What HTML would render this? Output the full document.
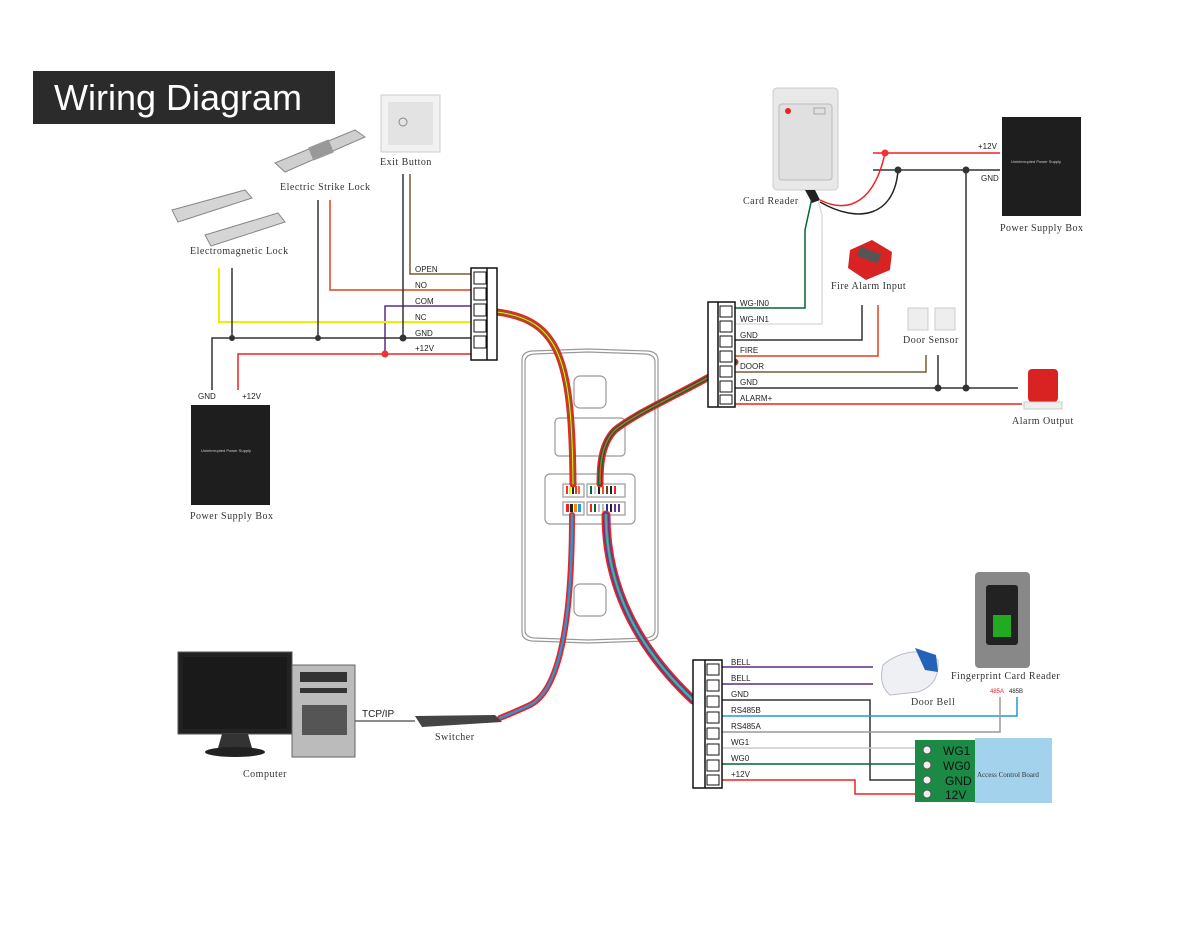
<!DOCTYPE html>
<html><head><meta charset="utf-8"><style>
html,body{margin:0;padding:0;background:#fff}
svg{display:block}
.l{font-family:"Liberation Sans",sans-serif;font-size:8px;fill:#222}
.s{font-family:"Liberation Serif",serif;font-size:10px;fill:#333;letter-spacing:0.5px}
</style></head><body>
<svg width="1200" height="927" viewBox="0 0 1200 927" xmlns="http://www.w3.org/2000/svg">
<rect width="1200" height="927" fill="#fff"/>
<rect x="33" y="71" width="302" height="53" fill="#2b2b2b"/>
<text x="54" y="110" font-family="Liberation Sans,sans-serif" font-size="36" fill="#fff">Wiring Diagram</text>

<g fill="none" stroke="#999" stroke-width="1.2">
<path d="M522 360 Q522 352 532 351 L588 349 L648 351 Q658 352 658 360 L658 632 Q658 640 648 641 L588 643 L532 641 Q522 640 522 632 Z"/>
<path d="M525 362 Q525 355 534 354 L588 352 L646 354 Q655 355 655 362 L655 630 Q655 637 646 638 L588 640 L534 638 Q525 637 525 630 Z"/>
<rect x="574" y="376" width="32" height="32" rx="6"/>
<rect x="555" y="418" width="70" height="38" rx="4"/>
<rect x="545" y="474" width="90" height="50" rx="5"/>
<rect x="574" y="584" width="32" height="32" rx="6"/>
<rect x="563" y="484" width="21" height="13"/><rect x="587" y="484" width="38" height="13"/>
<rect x="563" y="502" width="21" height="13"/><rect x="587" y="502" width="38" height="13"/>
</g>
<g>
<rect x="566" y="486" width="2" height="8" fill="#e33"/><rect x="569" y="486" width="2" height="8" fill="#ee0"/><rect x="572" y="486" width="2" height="8" fill="#222"/><rect x="575" y="486" width="2" height="8" fill="#e33"/><rect x="578" y="486" width="2" height="8" fill="#e63"/>
<rect x="590" y="486" width="2" height="8" fill="#063"/><rect x="594" y="486" width="2" height="8" fill="#ccc"/><rect x="598" y="486" width="2" height="8" fill="#222"/><rect x="602" y="486" width="2" height="8" fill="#e52"/><rect x="606" y="486" width="2" height="8" fill="#642"/><rect x="610" y="486" width="2" height="8" fill="#222"/><rect x="614" y="486" width="2" height="8" fill="#e22"/>
<rect x="566" y="504" width="3" height="8" fill="#e22"/><rect x="570" y="504" width="3" height="8" fill="#222"/><rect x="574" y="504" width="3" height="8" fill="#f80"/><rect x="578" y="504" width="3" height="8" fill="#29d"/>
<rect x="590" y="504" width="2" height="8" fill="#e22"/><rect x="594" y="504" width="2" height="8" fill="#063"/><rect x="598" y="504" width="2" height="8" fill="#bbb"/><rect x="602" y="504" width="2" height="8" fill="#bbb"/><rect x="606" y="504" width="2" height="8" fill="#239"/><rect x="610" y="504" width="2" height="8" fill="#222"/><rect x="614" y="504" width="2" height="8" fill="#639"/><rect x="618" y="504" width="2" height="8" fill="#639"/>
</g>

<g fill="none" stroke-linecap="round">
<path d="M497 312 C560 320 572 360 573 484" stroke="#e22" stroke-width="7"/>
<path d="M497 312 C560 320 572 360 573 484" stroke="#8a5a2a" stroke-width="4"/>
<path d="M497 312 C560 320 572 360 573 484" stroke="#ee0" stroke-width="1"/>
<path d="M735 362 C690 390 640 410 615 430 C600 445 600 470 600 484" stroke="#e22" stroke-width="7"/>
<path d="M735 362 C690 390 640 410 615 430 C600 445 600 470 600 484" stroke="#063" stroke-width="4"/>
<path d="M735 362 C690 390 640 410 615 430 C600 445 600 470 600 484" stroke="#c63" stroke-width="1.5"/>
<path d="M572 515 C572 620 560 690 530 705 C515 712 505 716 500 718" stroke="#e22" stroke-width="6"/>
<path d="M572 515 C572 620 560 690 530 705 C515 712 505 716 500 718" stroke="#29d" stroke-width="2.5"/>
<path d="M606 515 C606 590 640 650 693 700" stroke="#e22" stroke-width="9"/>
<path d="M606 515 C606 590 640 650 693 700" stroke="#639" stroke-width="6"/>
<path d="M606 515 C606 590 640 650 693 700" stroke="#2a8" stroke-width="3"/>
<path d="M606 515 C606 590 640 650 693 700" stroke="#999" stroke-width="1"/>
</g>

<g fill="none" stroke-width="1.5">
<path d="M410 174 V274 H471" stroke="#7a5a35"/>
<path d="M330 200 V290 H471" stroke="#e2401a"/>
<path d="M385 354 V306 H471" stroke="#5a2d8a"/>
<path d="M219 268 V322 H471" stroke="#ee0" stroke-width="2"/>
<path d="M212 390 V338 H471" stroke="#333"/>
<path d="M238 390 V354 H471" stroke="#e22"/>
<path d="M232 268 V338" stroke="#333"/>
<path d="M318 200 V338" stroke="#333"/>
<path d="M403 174 V338" stroke="#333"/>
</g>
<g fill="#333"><circle cx="232" cy="338" r="3"/><circle cx="318" cy="338" r="3"/><circle cx="403" cy="338" r="3.5"/></g>
<circle cx="385" cy="354" r="3.5" fill="#e33"/>
<rect x="471" y="268" width="26" height="92" fill="#fff" stroke="#111" stroke-width="1.5"/>
<line x1="487" y1="268" x2="487" y2="360" stroke="#111" stroke-width="1.5"/>
<g fill="none" stroke="#111"><rect x="474" y="272" width="12" height="12"/><rect x="474" y="288" width="12" height="12"/><rect x="474" y="304" width="12" height="12"/><rect x="474" y="320" width="12" height="12"/><rect x="474" y="336" width="12" height="12"/></g>
<text class="l" x="415" y="272">OPEN</text><text class="l" x="415" y="288">NO</text><text class="l" x="415" y="304">COM</text><text class="l" x="415" y="320">NC</text><text class="l" x="415" y="336">GND</text><text class="l" x="415" y="351">+12V</text>

<rect x="381" y="95" width="59" height="57" fill="#f2f2f2" stroke="#ccc"/>
<rect x="388" y="102" width="45" height="43" fill="#e3e3e3"/>
<circle cx="403" cy="122" r="4" fill="none" stroke="#888"/>
<text class="s" x="380" y="165">Exit Button</text>
<polygon points="275,163 355,130 365,137 285,172" fill="#cfcfcf" stroke="#888"/>
<rect x="310" y="143" width="22" height="14" fill="#999" transform="rotate(-22 321 150)"/>
<text class="s" x="280" y="190">Electric Strike Lock</text>
<polygon points="172,210 245,190 252,198 178,222" fill="#d5d5d5" stroke="#888"/>
<polygon points="205,235 278,213 285,222 211,246" fill="#d5d5d5" stroke="#888"/>
<text class="s" x="190" y="254" font-size="9">Electromagnetic Lock</text>
<text class="l" x="198" y="399" font-size="9">GND</text><text class="l" x="242" y="399" font-size="9">+12V</text>
<rect x="191" y="405" width="79" height="100" fill="#1e1e1e"/>
<text x="201" y="452" font-family="Liberation Sans,sans-serif" font-size="4" fill="#ccc">Uninterrupted Power Supply</text>
<text class="s" x="190" y="519">Power Supply Box</text>

<g fill="none" stroke-width="1.5">
<path d="M873 153 H1000" stroke="#e22"/>
<path d="M873 170 H1000" stroke="#333"/>
<path d="M820 200 C850 215 875 200 885 153" stroke="#e22"/>
<path d="M820 202 C860 225 895 215 898 170" stroke="#222"/>
<path d="M812 198 L805 230 V308 H735" stroke="#063"/>
<path d="M818 200 L822 215 V324 H735" stroke="#ddd"/>
<path d="M862 305 V340 H735" stroke="#333"/>
<path d="M878 305 V356 H735" stroke="#e2401a"/>
<path d="M926 355 V372 H735" stroke="#7a5a35"/>
<path d="M938 355 V388" stroke="#333"/>
<path d="M966 170 V388" stroke="#333"/>
<path d="M735 388 H1018" stroke="#333"/>
<path d="M735 404 H1022" stroke="#e22"/>
</g>
<circle cx="885" cy="153" r="3.5" fill="#e33"/>
<g fill="#333"><circle cx="898" cy="170" r="3.5"/><circle cx="966" cy="170" r="3.5"/><circle cx="938" cy="388" r="3.5"/><circle cx="966" cy="388" r="3.5"/></g>
<rect x="708" y="302" width="27" height="105" fill="#fff" stroke="#111" stroke-width="1.5"/>
<line x1="718" y1="302" x2="718" y2="407" stroke="#111" stroke-width="1.5"/>
<g fill="none" stroke="#111"><rect x="720" y="306" width="12" height="11"/><rect x="720" y="321" width="12" height="11"/><rect x="720" y="336" width="12" height="11"/><rect x="720" y="351" width="12" height="11"/><rect x="720" y="366" width="12" height="11"/><rect x="720" y="381" width="12" height="11"/><rect x="720" y="395" width="12" height="9"/></g>
<text class="l" x="740" y="306">WG-IN0</text><text class="l" x="740" y="322">WG-IN1</text><text class="l" x="740" y="338">GND</text><text class="l" x="740" y="353">FIRE</text><text class="l" x="740" y="369">DOOR</text><text class="l" x="740" y="385">GND</text><text class="l" x="740" y="401">ALARM+</text>

<rect x="773" y="88" width="65" height="102" rx="4" fill="#e8e8e8" stroke="#ccc"/>
<rect x="779" y="104" width="53" height="76" rx="3" fill="#e0e0e0" stroke="#bbb"/>
<circle cx="788" cy="111" r="3" fill="#e22"/>
<rect x="814" y="108" width="11" height="6" fill="none" stroke="#aaa"/>
<polygon points="805,190 815,190 820,200 812,203" fill="#222"/>
<text class="s" x="743" y="204">Card Reader</text>
<rect x="1002" y="117" width="79" height="99" fill="#1e1e1e"/>
<text x="1011" y="163" font-family="Liberation Sans,sans-serif" font-size="4" fill="#ccc">Uninterrupted Power Supply</text>
<text class="l" x="978" y="149" font-size="9">+12V</text><text class="l" x="981" y="181" font-size="9">GND</text>
<text class="s" x="1000" y="231">Power Supply Box</text>
<polygon points="850,250 872,240 892,252 890,270 866,280 848,268" fill="#d92222"/>
<rect x="858" y="250" width="22" height="10" fill="#555" transform="rotate(20 869 255)"/>
<text class="s" x="831" y="289">Fire Alarm Input</text>
<rect x="908" y="308" width="20" height="22" fill="#eee" stroke="#ccc"/><rect x="935" y="308" width="20" height="22" fill="#eee" stroke="#ccc"/>
<text class="s" x="903" y="343">Door Sensor</text>
<rect x="1028" y="369" width="30" height="33" rx="4" fill="#d92222"/>
<rect x="1024" y="402" width="38" height="7" fill="#eee" stroke="#ccc"/>
<text class="s" x="1012" y="424">Alarm Output</text>

<g fill="none" stroke-width="1.5">
<path d="M722 667 H873" stroke="#5a2d8a"/>
<path d="M722 684 H873" stroke="#5a2d8a"/>
<path d="M722 700 H870 V780 H918" stroke="#333"/>
<path d="M722 716 H1017 V697" stroke="#29d"/>
<path d="M722 732 H1000 V697" stroke="#999"/>
<path d="M722 748 H918" stroke="#ccc"/>
<path d="M722 764 H918" stroke="#063"/>
<path d="M722 780 H855 V794 H918" stroke="#e22"/>
</g>
<rect x="693" y="660" width="29" height="128" fill="#fff" stroke="#111" stroke-width="1.5"/>
<line x1="705" y1="660" x2="705" y2="788" stroke="#111" stroke-width="1.5"/>
<g fill="none" stroke="#111"><rect x="707" y="664" width="12" height="11"/><rect x="707" y="680" width="12" height="11"/><rect x="707" y="696" width="12" height="11"/><rect x="707" y="712" width="12" height="11"/><rect x="707" y="728" width="12" height="11"/><rect x="707" y="744" width="12" height="11"/><rect x="707" y="760" width="12" height="11"/><rect x="707" y="775" width="12" height="10"/></g>
<text class="l" x="731" y="665">BELL</text><text class="l" x="731" y="681">BELL</text><text class="l" x="731" y="697">GND</text><text class="l" x="731" y="713">RS485B</text><text class="l" x="731" y="729">RS485A</text><text class="l" x="731" y="745">WG1</text><text class="l" x="731" y="761">WG0</text><text class="l" x="731" y="777">+12V</text>
<rect x="915" y="740" width="25" height="62" fill="#1a8a44"/>
<g fill="#eee" stroke="#555"><circle cx="927" cy="750" r="4"/><circle cx="927" cy="765" r="4"/><circle cx="927" cy="780" r="4"/><circle cx="927" cy="794" r="4"/></g>
<rect x="975" y="738" width="77" height="65" fill="#a3d3ec"/>
<rect x="940" y="740" width="35" height="62" fill="#1a8a44"/>
<g font-family="Liberation Sans,sans-serif" font-size="12" fill="#111"><text x="943" y="755">WG1</text><text x="943" y="770">WG0</text><text x="945" y="785">GND</text><text x="945" y="799">12V</text></g>
<text x="977" y="777" font-family="Liberation Serif,serif" font-size="7" fill="#333">Access Control Board</text>
<path d="M883 665 Q900 650 925 652 L938 660 Q940 685 918 692 L890 695 Q878 685 883 665Z" fill="#eef0f4" stroke="#bbc"/>
<path d="M915 648 L936 655 L938 672 L925 670Z" fill="#2461b8"/>
<text class="s" x="911" y="705">Door Bell</text>
<rect x="975" y="572" width="55" height="96" rx="4" fill="#888"/>
<rect x="986" y="585" width="32" height="60" rx="3" fill="#222"/>
<rect x="993" y="615" width="18" height="22" fill="#2a2"/>
<text class="s" x="951" y="679" font-size="9">Fingerprint Card Reader</text>
<text x="990" y="693" font-family="Liberation Sans,sans-serif" font-size="6" fill="#e22">485A</text>
<text x="1009" y="693" font-family="Liberation Sans,sans-serif" font-size="6" fill="#222">485B</text>

<rect x="178" y="652" width="114" height="82" fill="#222" stroke="#555"/>
<rect x="183" y="657" width="104" height="72" fill="#1a1a1a"/>
<polygon points="222,734 248,734 252,748 218,748" fill="#333"/>
<ellipse cx="235" cy="752" rx="30" ry="5" fill="#222"/>
<rect x="292" y="665" width="63" height="92" fill="#bbb" stroke="#666"/>
<rect x="300" y="672" width="47" height="10" fill="#333"/>
<rect x="300" y="688" width="47" height="5" fill="#333"/>
<rect x="302" y="705" width="45" height="30" fill="#555"/>
<text class="s" x="243" y="777">Computer</text>
<line x1="355" y1="721" x2="415" y2="721" stroke="#666" stroke-width="1.5"/>
<text x="362" y="717" font-family="Liberation Sans,sans-serif" font-size="10" fill="#222">TCP/IP</text>
<polygon points="415,716 495,715 502,722 422,727" fill="#444"/>
<text class="s" x="435" y="740">Switcher</text>
</svg>
</body></html>
